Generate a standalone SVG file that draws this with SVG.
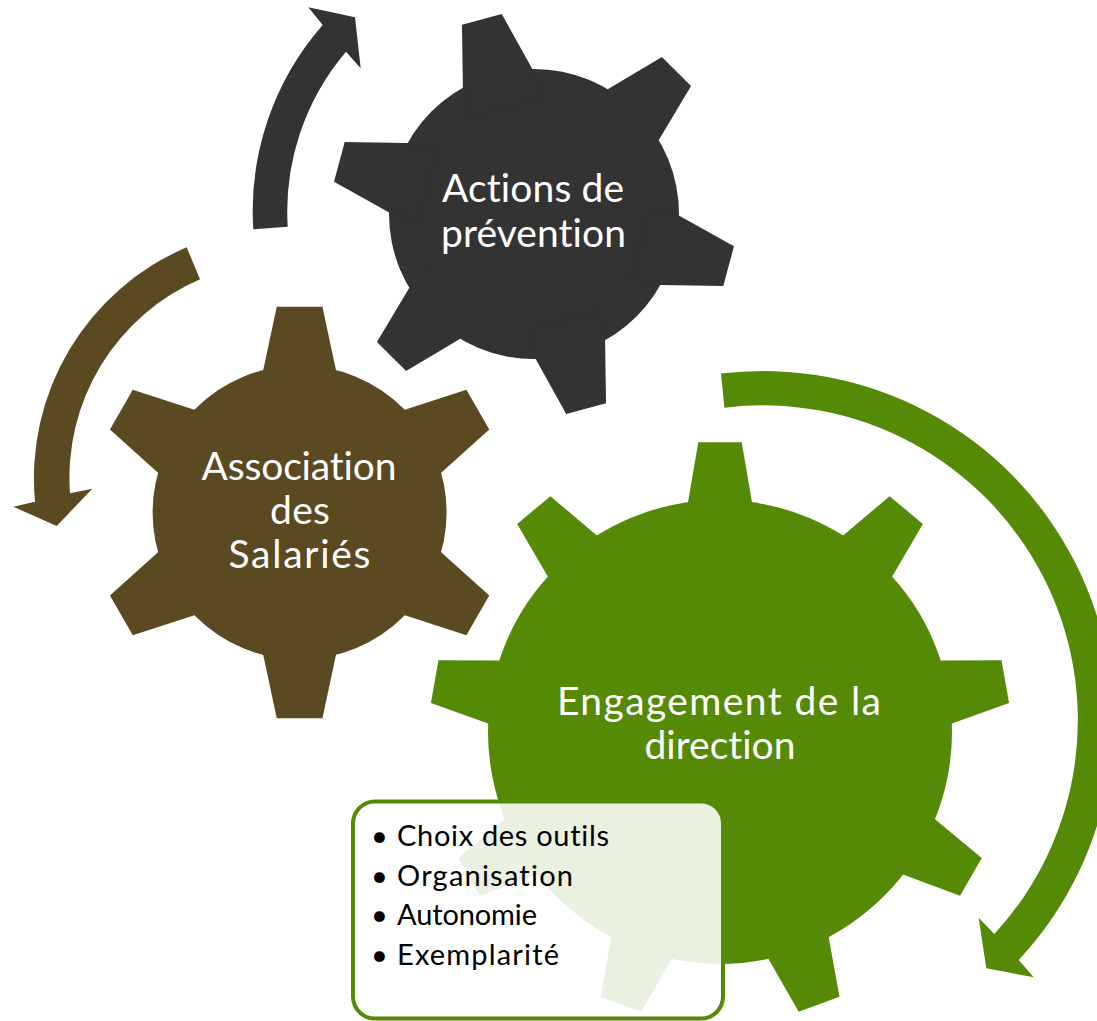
<svg xmlns="http://www.w3.org/2000/svg" xmlns:xlink="http://www.w3.org/1999/xlink" width="1097" height="1021" viewBox="0 0 1097 1021">
  <style>
    text { font-variant-ligatures: none; font-feature-settings: "liga" 0, "clig" 0; }
    .lbl { font-family: Lato, "Liberation Sans", sans-serif; font-size: 39px; fill: #ffffff; text-anchor: middle; }
    .item { font-family: Lato, "Liberation Sans", sans-serif; font-size: 29px; fill: #000000; }
    .dark { fill: #333333; }
    .brown { fill: #5b4a21; }
    .green { fill: #548a05; }
  </style>
  <defs>
    <!-- one tooth per gear, drawn pointing up from the gear centre -->
    <polygon id="toothDark" points="-36,-110 -36,-140.3 -20.6,-201.5 20.6,-201.5 36,-140.3 36,-110"/>
    <polygon id="toothBrown" points="-36.35,-110 -36.35,-142.5 -22.85,-205.8 22.85,-205.8 36.35,-142.5 36.35,-110"/>
    <polygon id="toothGreen" points="-32,-200 -32,-229.8 -21.7,-289.7 21.7,-289.7 32,-229.8 32,-200"/>
  </defs>

  <!-- gear: Actions de prévention -->
  <g id="gear-actions" class="dark">
    <circle cx="534" cy="214" r="145"/>
    <g transform="translate(534 214)">
      <use xlink:href="#toothDark" transform="rotate(-15)"/>
      <use xlink:href="#toothDark" transform="rotate(45)"/>
      <use xlink:href="#toothDark" transform="rotate(105)"/>
      <use xlink:href="#toothDark" transform="rotate(165)"/>
      <use xlink:href="#toothDark" transform="rotate(225)"/>
      <use xlink:href="#toothDark" transform="rotate(285)"/>
    </g>
    <text class="lbl" x="533" y="202" textLength="182">Actions de</text>
    <text class="lbl" x="533.5" y="246.5" textLength="185">prévention</text>
  </g>

  <!-- gear: Association des Salariés -->
  <g id="gear-association" class="brown">
    <circle cx="299.6" cy="512.5" r="147"/>
    <g transform="translate(299.6 512.5)">
      <use xlink:href="#toothBrown"/>
      <use xlink:href="#toothBrown" transform="rotate(60)"/>
      <use xlink:href="#toothBrown" transform="rotate(120)"/>
      <use xlink:href="#toothBrown" transform="rotate(180)"/>
      <use xlink:href="#toothBrown" transform="rotate(240)"/>
      <use xlink:href="#toothBrown" transform="rotate(300)"/>
    </g>
    <text class="lbl" x="299" y="480" textLength="195">Association</text>
    <text class="lbl" x="300" y="523.5" textLength="60">des</text>
    <text class="lbl" x="299.5" y="568" textLength="142">Salariés</text>
  </g>

  <!-- gear: Engagement de la direction -->
  <g id="gear-engagement" class="green">
    <circle cx="720" cy="732" r="232"/>
    <g transform="translate(720 732)">
      <use xlink:href="#toothGreen"/>
      <use xlink:href="#toothGreen" transform="rotate(40)"/>
      <use xlink:href="#toothGreen" transform="rotate(80)"/>
      <use xlink:href="#toothGreen" transform="rotate(120)"/>
      <use xlink:href="#toothGreen" transform="rotate(160)"/>
      <use xlink:href="#toothGreen" transform="rotate(200)"/>
      <use xlink:href="#toothGreen" transform="rotate(240)"/>
      <use xlink:href="#toothGreen" transform="rotate(280)"/>
      <use xlink:href="#toothGreen" transform="rotate(320)"/>
    </g>
    <text class="lbl" x="719" y="715" textLength="324">Engagement de la</text>
    <text class="lbl" x="720" y="758.5" textLength="151">direction</text>
  </g>

  <!-- circular arrows around the gears -->
  <g id="connectors">
    <path class="dark" d="M 253.3,229.3 A 282 282 0 0 1 322.7,25 L 308.3,7.3 L 355,17.3 L 360.7,68.3 L 346,51.7 A 247 247 0 0 0 287.7,226.7 Z"/>
    <path class="brown" d="M 186.7,247.3 A 251 251 0 0 0 35,501.7 L 13.3,506.7 L 56.7,526 L 92.3,488.7 L 70,493.3 A 216 216 0 0 1 200,279.3 Z"/>
    <path class="green" d="M 721,373.5 A 350 350 0 0 1 1018.7,960 L 1033.7,977.3 L 986.3,968.3 L 978.7,917.7 L 994.3,934 A 315 315 0 0 0 724.4,407.7 Z"/>
  </g>

  <!-- details box for the management gear -->
  <g id="box-engagement">
    <rect x="353" y="801.5" width="370" height="217" rx="22" ry="22" fill="#ffffff" fill-opacity="0.88" stroke="#548a05" stroke-width="4"/>
    <text class="item" x="371" y="846">•</text>
    <text class="item" x="397" y="846" textLength="212">Choix des outils</text>
    <text class="item" x="371" y="885.5">•</text>
    <text class="item" x="397" y="885.5" textLength="176">Organisation</text>
    <text class="item" x="371" y="925">•</text>
    <text class="item" x="397" y="925" textLength="140">Autonomie</text>
    <text class="item" x="371" y="964.5">•</text>
    <text class="item" x="397" y="964.5" textLength="162">Exemplarité</text>
  </g>
</svg>
